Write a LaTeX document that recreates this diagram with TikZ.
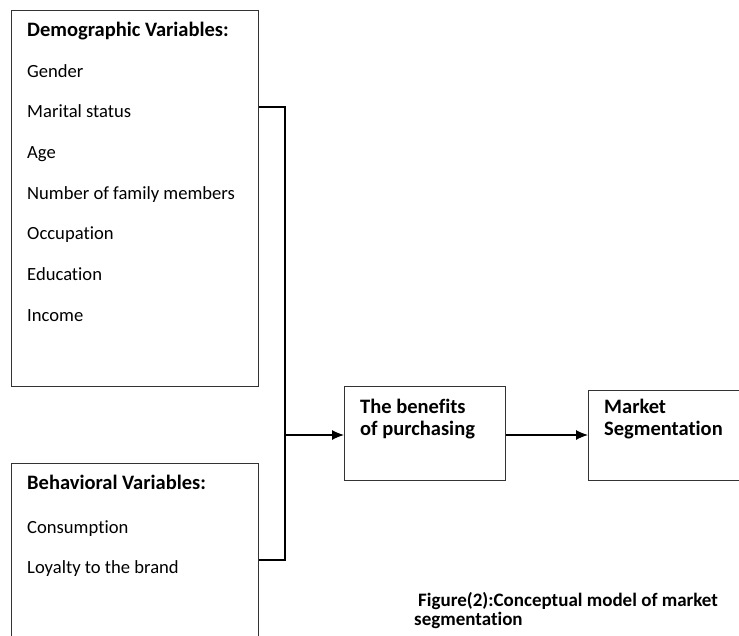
\documentclass[tikz,border=0pt]{standalone}
\usepackage{fontspec}
\setmainfont{Carlito}[Ligatures=NoCommon]
\usetikzlibrary{arrows.meta}
\begin{document}
\begin{tikzpicture}[x=1pt,y=-1pt,
  box/.style={draw=black!80,line width=1.3pt,rectangle,inner sep=0pt},
  conn/.style={draw=black,line width=1.1pt},
  arr/.style={conn,-{Latex[length=12pt,width=10pt]}},
  txt/.style={anchor=base west,inner sep=0pt,font=\fontsize{18.6}{20}\selectfont},
  btxt/.style={txt,font=\fontsize{20.5}{20}\selectfont\bfseries},
  ctxt/.style={txt,font=\fontsize{19}{20}\selectfont\bfseries}]
\useasboundingbox (0,0) rectangle (739,635);
\clip (0,0) rectangle (739,635);
% boxes
\node[box,minimum width=247pt,minimum height=376pt,anchor=north west] (demo) at (11,10) {};
\node[box,minimum width=247pt,minimum height=200pt,anchor=north west] (behav) at (11,463) {};
\node[box,minimum width=161pt,minimum height=94pt,anchor=north west] (benef) at (344,386) {};
\node[box,minimum width=170pt,minimum height=90pt,anchor=north west] (market) at (588,390) {};
% demographic texts
\node[btxt] (d0) at (27,36) {Demographic Variables:};
\node[txt] (d1) at (27,77) {Gender};
\node[txt] (d2) at (27,117) {Marital status};
\node[txt] (d3) at (27,158) {Age};
\node[txt] (d4) at (27,199) {Number of family members};
\node[txt] (d5) at (27,239) {Occupation};
\node[txt] (d6) at (27,280) {Education};
\node[txt] (d7) at (27,321) {Income};
% behavioral texts
\node[btxt] (b0) at (27,489) {Behavioral Variables:};
\node[txt] (b1) at (27,533) {Consumption};
\node[txt] (b2) at (27,573) {Loyalty to the brand};
% benefits
\node[btxt] (e1) at (360,413) {The benefits};
\node[btxt] (e2) at (360,435) {of purchasing};
% market
\node[btxt] (m1) at (604,413) {Market};
\node[btxt] (m2) at (604,435) {Segmentation};
% caption
\node[ctxt] (c1) at (418,606) {Figure(2):Conceptual model of market};
\node[ctxt] (c2) at (414,625) {segmentation};
% connectors
\coordinate (j1) at (285,107);
\coordinate (j2) at (285,560);
\coordinate (jm) at (285,435);
\draw[conn] (demo.east |- j1) -- (j1) -- (j2) -- (behav.east |- j2);
\draw[arr] (jm) -- (benef.west |- jm);
\draw[arr] (benef.east |- jm) -- (market.west |- jm);
\end{tikzpicture}
\end{document}
